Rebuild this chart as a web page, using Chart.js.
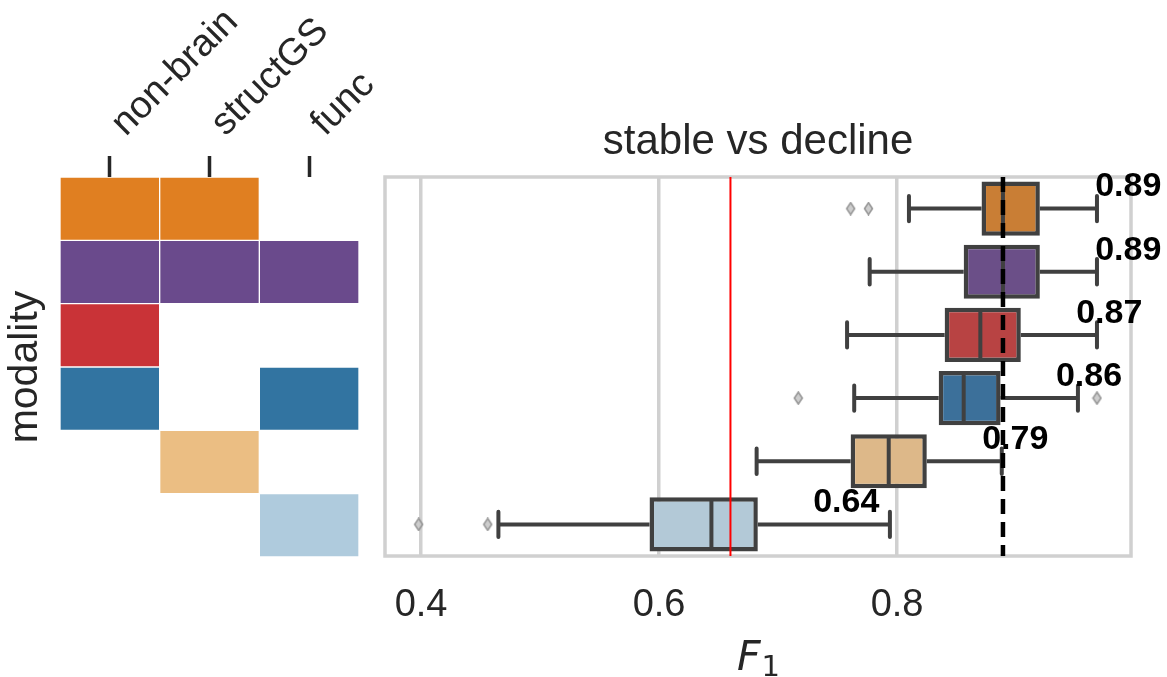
<!DOCTYPE html>
<html><head><meta charset="utf-8">
<script src="https://cdn.jsdelivr.net/npm/chart.js@4.4.1/dist/chart.umd.min.js"></script>
<style>
html,body{margin:0;padding:0;background:#fff;width:1167px;height:677px;overflow:hidden}
#left{position:absolute;left:0;top:0}
#right{position:absolute;left:375px;top:0}
</style></head><body>
<canvas id="left" width="375" height="677"></canvas>
<canvas id="right" width="792" height="677"></canvas>
<script>
// ---- data ----
const modalityRows = ['non-brain + structGS', 'all', 'non-brain', 'non-brain + func', 'structGS', 'func'];
const modalityColumns = ['non-brain', 'structGS', 'func'];
const usesNonBrain = [1, 1, 1, 1, 0, 0];
const usesStructGS = [1, 1, 0, 0, 1, 0];
const usesFunc     = [0, 1, 0, 1, 0, 1];

const whiskerLow  = [0.810, 0.777, 0.758, 0.764, 0.682, 0.465];
const q1          = [0.871, 0.856, 0.840, 0.835, 0.761, 0.592];
const median      = [0.889, 0.889, 0.870, 0.856, 0.793, 0.644];
const q3          = [0.920, 0.920, 0.904, 0.887, 0.825, 0.683];
const whiskerHigh = [0.968, 0.968, 0.968, 0.952, 0.888, 0.794];
const outliers    = [[0.761, 0.776], [], [], [0.717, 0.968], [], [0.398, 0.456]];
const meanF1      = [0.89, 0.89, 0.87, 0.86, 0.79, 0.64];
const chanceF1 = 0.66;
const bestMedianF1 = 0.889;
const xTicks = [0.4, 0.6, 0.8];
const xMin = 0.3697, xMax = 0.9966;

// ---- styles ----
const cellColors = ['#e07f21', '#6a4a8c', '#c93337', '#3274a1', '#ebbe83', '#afcbdd'];
const boxColors  = ['#c97e35', '#6b4f88', '#b84343', '#3c709a', '#ddb889', '#b3c9d7'];
const INK = '#262626';
const BOXLINE = '#404040';
const SANS = '"Liberation Sans", Arial, sans-serif';

// thin diamond marker
const diamond = document.createElement('canvas');
diamond.width = 11; diamond.height = 14;
(function () {
  const c = diamond.getContext('2d');
  c.beginPath();
  c.moveTo(5.5, 1); c.lineTo(9.5, 7); c.lineTo(5.5, 13); c.lineTo(1.5, 7); c.closePath();
  c.fillStyle = 'rgba(200,200,200,0.9)';
  c.fill();
  c.lineWidth = 1.6;
  c.strokeStyle = 'rgba(140,140,140,0.85)';
  c.stroke();
})();

// ---- left: modality matrix ----
const membership = [usesNonBrain, usesStructGS, usesFunc];
const matrixDatasets = modalityColumns.map((col, c) => ({
  label: col,
  data: membership[c].map(f => f ? [c, c + 1] : null),
  backgroundColor: cellColors,
  borderColor: 'rgba(255,255,255,0.55)',
  borderWidth: 1,
  borderSkipped: false,
  barPercentage: 1,
  categoryPercentage: 1,
  grouped: false
}));

const columnLabelPlugin = {
  id: 'columnLabels',
  afterDraw(chart) {
    const ctx = chart.ctx, xs = chart.scales.x;
    ctx.save();
    ctx.fillStyle = INK;
    ctx.font = '38px ' + SANS;
    ctx.textAlign = 'left';
    ctx.textBaseline = 'alphabetic';
    modalityColumns.forEach((lab, c) => {
      const x = xs.getPixelForValue(c + 0.5);
      ctx.save();
      ctx.translate(x + 16, 137);
      ctx.rotate(-Math.PI / 4);
      ctx.fillText(lab, 0, 0);
      ctx.restore();
    });
    ctx.restore();
  }
};

new Chart(document.getElementById('left'), {
  type: 'bar',
  data: { labels: modalityRows, datasets: matrixDatasets },
  options: {
    indexAxis: 'y', responsive: false, animation: false,
    layout: { padding: { left: 0, right: 16, top: 0, bottom: 120 } },
    plugins: { legend: { display: false }, tooltip: { enabled: false } },
    scales: {
      x: {
        type: 'linear', min: 0, max: 3, position: 'top',
        afterBuildTicks: s => { s.ticks = [0.5, 1.5, 2.5].map(v => ({ value: v })); },
        afterFit: s => { s.height = 177; s.paddingLeft = 0; s.paddingRight = 0; },
        grid: { display: true, drawOnChartArea: false, drawTicks: true, tickLength: 21, tickWidth: 3.5, tickColor: INK },
        border: { display: false },
        ticks: { display: false }
      },
      y: {
        type: 'category', offset: true,
        afterFit: s => { s.width = 60; },
        grid: { display: false }, border: { display: false },
        ticks: { display: false },
        title: { display: true, text: 'modality', color: INK, font: { family: SANS, size: 41 }, padding: { top: 1.5, bottom: 0 } }
      }
    }
  },
  plugins: [columnLabelPlugin]
});

// ---- right: box plots ----
const boxData = q1.map((v, i) => [v, q3[i]]);
const outlierPoints = [];
outliers.forEach((arr, i) => arr.forEach(v => outlierPoints.push({ x: v, y: modalityRows[i] })));

const boxPlugin = {
  id: 'boxExtras',
  beforeDatasetsDraw(chart) {
    const ctx = chart.ctx, a = chart.chartArea;
    ctx.save();
    ctx.strokeStyle = '#d0d0d0';
    ctx.lineWidth = 3.5;
    ctx.strokeRect(a.left, a.top, a.right - a.left, a.bottom - a.top);
    ctx.restore();
  },
  afterDatasetsDraw(chart) {
    const ctx = chart.ctx, xs = chart.scales.x, ys = chart.scales.y, a = chart.chartArea;
    const rowH = ys.getPixelForValue(1) - ys.getPixelForValue(0);
    const boxH = rowH * 0.8;
    ctx.save();
    ctx.strokeStyle = BOXLINE;
    ctx.lineWidth = 4;
    modalityRows.forEach((r, i) => {
      const y = ys.getPixelForValue(i);
      ctx.lineCap = 'butt';
      ctx.beginPath();
      ctx.moveTo(xs.getPixelForValue(whiskerLow[i]), y);
      ctx.lineTo(xs.getPixelForValue(q1[i]), y);
      ctx.moveTo(xs.getPixelForValue(q3[i]), y);
      ctx.lineTo(xs.getPixelForValue(whiskerHigh[i]), y);
      ctx.stroke();
      ctx.lineCap = 'round';
      ctx.beginPath();
      [whiskerLow[i], whiskerHigh[i]].forEach(v => {
        const x = xs.getPixelForValue(v);
        ctx.moveTo(x, y - boxH / 4);
        ctx.lineTo(x, y + boxH / 4);
      });
      ctx.stroke();
      ctx.lineCap = 'butt';
      ctx.beginPath();
      const mx = xs.getPixelForValue(median[i]);
      ctx.moveTo(mx, y - boxH / 2);
      ctx.lineTo(mx, y + boxH / 2);
      ctx.stroke();
    });
    // chance line
    const cx = xs.getPixelForValue(chanceF1);
    ctx.strokeStyle = '#ff0000';
    ctx.lineWidth = 2;
    ctx.beginPath(); ctx.moveTo(cx, a.top); ctx.lineTo(cx, a.bottom); ctx.stroke();
    // best median dashed line
    const bx = xs.getPixelForValue(bestMedianF1);
    ctx.strokeStyle = '#000';
    ctx.lineWidth = 4.5;
    ctx.setLineDash([15, 8]);
    ctx.beginPath(); ctx.moveTo(bx, a.top); ctx.lineTo(bx, a.bottom); ctx.stroke();
    ctx.setLineDash([]);
    // mean labels (placed just right of each box)
    ctx.fillStyle = '#000';
    ctx.font = 'bold 34px ' + SANS;
    ctx.textAlign = 'left';
    ctx.textBaseline = 'middle';
    meanF1.forEach((m, i) => {
      ctx.fillText(m.toFixed(2), xs.getPixelForValue(q3[i] + 0.0465), ys.getPixelForValue(i - 0.34));
    });
    ctx.restore();
  },
  afterDraw(chart) {
    const ctx = chart.ctx, a = chart.chartArea;
    const cx = (a.left + a.right) / 2;
    ctx.save();
    ctx.fillStyle = INK;
    ctx.textBaseline = 'alphabetic';
    ctx.textAlign = 'left';
    ctx.font = 'italic 41px "DejaVu Sans", sans-serif';
    const wF = ctx.measureText('F').width;
    ctx.font = '29px "DejaVu Sans", sans-serif';
    const w1 = ctx.measureText('1').width;
    const x0 = cx - (wF + w1) / 2;
    ctx.font = 'italic 41px "DejaVu Sans", sans-serif';
    ctx.fillText('F', x0, 670);
    ctx.font = '29px "DejaVu Sans", sans-serif';
    ctx.fillText('1', x0 + wF + 1, 676);
    ctx.restore();
  }
};

new Chart(document.getElementById('right'), {
  type: 'bar',
  data: {
    labels: modalityRows,
    datasets: [
      { type: 'bar', data: boxData, backgroundColor: boxColors, borderColor: BOXLINE, borderWidth: 4.5, borderSkipped: false, barPercentage: 0.857, categoryPercentage: 1, order: 2 },
      { type: 'scatter', data: outlierPoints, pointStyle: diamond, radius: 6, order: 1 }
    ]
  },
  options: {
    indexAxis: 'y', responsive: false, animation: false,
    layout: { padding: { left: 10, right: 36, top: 0, bottom: 0 } },
    plugins: {
      legend: { display: false }, tooltip: { enabled: false },
      title: { display: true, text: 'stable vs decline', color: INK, font: { family: SANS, size: 42, weight: 'normal' }, padding: { top: 117, bottom: 9.6 } }
    },
    scales: {
      x: {
        type: 'linear', min: xMin, max: xMax, position: 'bottom',
        afterBuildTicks: s => { s.ticks = xTicks.map(v => ({ value: v })); },
        afterFit: s => { s.height = 121; s.paddingLeft = 0; s.paddingRight = 0; },
        grid: { color: '#d0d0d0', lineWidth: 3.5, drawTicks: false },
        border: { display: false },
        ticks: { padding: 27, color: INK, font: { family: SANS, size: 38 }, callback: v => Number(v).toFixed(1) }
      },
      y: { type: 'category', display: false, offset: true }
    }
  },
  plugins: [boxPlugin]
});
</script>
</body></html>
